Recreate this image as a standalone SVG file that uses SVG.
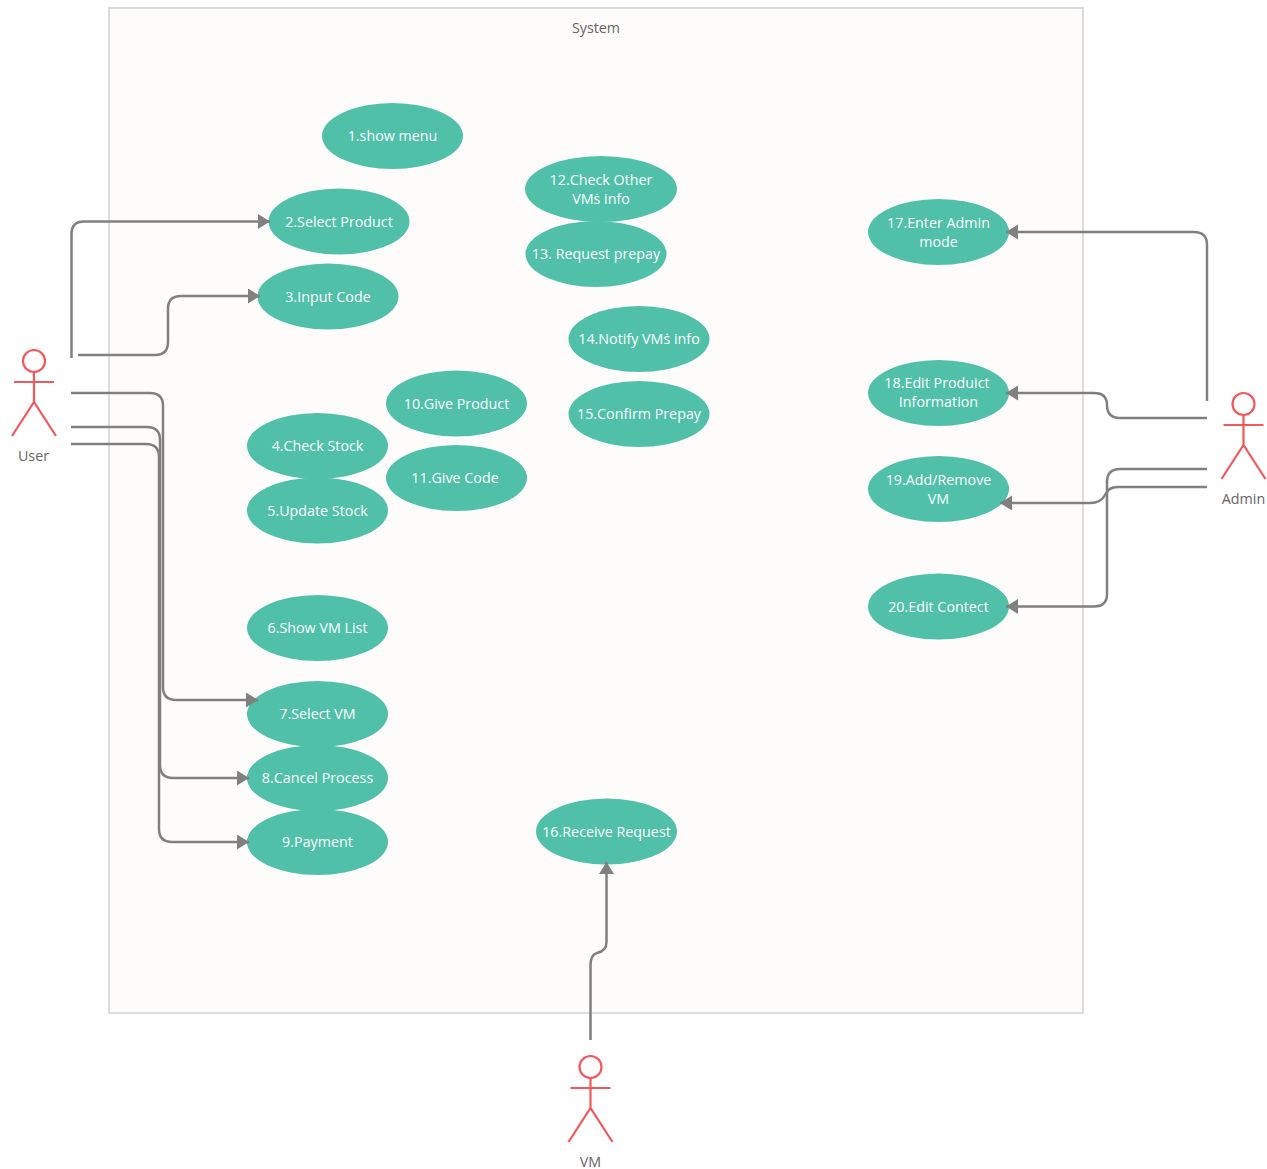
<svg xmlns="http://www.w3.org/2000/svg" width="1267" height="1169" viewBox="0 0 1267 1169">
<defs>
<marker id="arrow" markerUnits="userSpaceOnUse" markerWidth="14" markerHeight="16" refX="12" refY="7.500" orient="auto"><path d="M0 0L12 7.500L0 15Z" fill="#808080"/></marker>
</defs>
<style>
text{font-family:"Open Sans","Noto Sans","Liberation Sans",sans-serif;font-size:14.3px;text-anchor:middle}
.uc ellipse{fill:#50c0a9}
.uc text{fill:#fbfffd}
.actor path,.actor circle{fill:none;stroke:#f4575b;stroke-width:2.200}
.lbl{fill:#666}
#connectors path{fill:none;stroke:#808080;stroke-width:2.500}
.a{marker-end:url(#arrow)}
</style>
<rect width="1267" height="1169" fill="#fff"/>
<g id="system"><rect x="109" y="8" width="974" height="1005" fill="#fdfcfb" stroke="#dcdcdc" stroke-width="2"/><text class="lbl" x="596" y="33">System</text></g>
<g class="uc" id="uc1"><ellipse cx="392.5" cy="136" rx="70.5" ry="33"/><text x="392.5" y="141">1.show menu</text></g>
<g class="uc" id="uc2"><ellipse cx="339" cy="221.500" rx="70.5" ry="33"/><text x="339" y="226.500">2.Select Product</text></g>
<g class="uc" id="uc3"><ellipse cx="328" cy="296.500" rx="70.5" ry="33"/><text x="328" y="301.500">3.Input Code</text></g>
<g class="uc" id="uc4"><ellipse cx="317.500" cy="446" rx="70.5" ry="33"/><text x="317.500" y="451">4.Check Stock</text></g>
<g class="uc" id="uc5"><ellipse cx="317.500" cy="510.500" rx="70.5" ry="33"/><text x="317.500" y="515.500">5.Update Stock</text></g>
<g class="uc" id="uc6"><ellipse cx="317.500" cy="628" rx="70.5" ry="33"/><text x="317.500" y="633">6.Show VM List</text></g>
<g class="uc" id="uc7"><ellipse cx="317.500" cy="714" rx="70.5" ry="33"/><text x="317.500" y="719">7.Select VM</text></g>
<g class="uc" id="uc8"><ellipse cx="317.500" cy="778" rx="70.5" ry="33"/><text x="317.500" y="783">8.Cancel Process</text></g>
<g class="uc" id="uc9"><ellipse cx="317.500" cy="842" rx="70.5" ry="33"/><text x="317.500" y="847">9.Payment</text></g>
<g class="uc" id="uc10"><ellipse cx="456.500" cy="403.500" rx="70.5" ry="33"/><text x="456.500" y="408.500">10.Give Product</text></g>
<g class="uc" id="uc11"><ellipse cx="456.500" cy="478" rx="70.5" ry="33"/><text x="455" y="483">11.Give Code</text></g>
<g class="uc" id="uc12"><ellipse cx="601" cy="189" rx="76" ry="33"/><text x="601" y="185">12.Check Other</text><text x="601" y="204">VMṡ info</text></g>
<g class="uc" id="uc13"><ellipse cx="596" cy="254" rx="70.5" ry="33"/><text x="596" y="259">13. Request prepay</text></g>
<g class="uc" id="uc14"><ellipse cx="639" cy="339" rx="70.5" ry="33"/><text x="639" y="344">14.Notify VMṡ info</text></g>
<g class="uc" id="uc15"><ellipse cx="639" cy="414" rx="70.5" ry="33"/><text x="639" y="419">15.Confirm Prepay</text></g>
<g class="uc" id="uc16"><ellipse cx="606.500" cy="831.500" rx="70.5" ry="33"/><text x="606.500" y="836.500">16.Receive Request</text></g>
<g class="uc" id="uc17"><ellipse cx="938.500" cy="232" rx="70.5" ry="33"/><text x="938.500" y="228">17.Enter Admin</text><text x="938.500" y="247">mode</text></g>
<g class="uc" id="uc18"><ellipse cx="938.500" cy="393" rx="70.5" ry="33"/><text x="937" y="388">18.Edit Produict</text><text x="938.500" y="407">Information</text></g>
<g class="uc" id="uc19"><ellipse cx="938.500" cy="489" rx="70.5" ry="33"/><text x="938.500" y="485">19.Add/Remove</text><text x="938.500" y="504">VM</text></g>
<g class="uc" id="uc20"><ellipse cx="938.500" cy="606.500" rx="70.5" ry="33"/><text x="938.500" y="612">20.Edit Contect</text></g>
<g class="actor" id="user"><circle cx="34" cy="361" r="11"/><path d="M34 372V402M14 382H54M12 436L34 402L56 436"/><text class="lbl" x="33.500" y="461">User</text></g>
<g class="actor" id="admin"><circle cx="1243.500" cy="404" r="11"/><path d="M1243.500 415V445M1223.500 425H1263.500M1221.500 479L1243.500 445L1265.500 479"/><text class="lbl" x="1243.500" y="504">Admin</text></g>
<g class="actor" id="vm"><circle cx="590.500" cy="1067" r="11"/><path d="M590.500 1078V1108M570.500 1088H610.500M568.500 1142L590.500 1108L612.500 1142"/><text class="lbl" x="590.500" y="1167">VM</text></g>
<g id="connectors">
<path class="a" d="M71.500 358V234Q71.500 221.500 84 221.500H270"/>
<path class="a" d="M78 355H155Q168 355 168 342V309Q168 296 181 296H260"/>
<path class="a" d="M71 393H150Q163 393 163 406V687Q163 700 176 700H258"/>
<path class="a" d="M71 427H147Q160 427 160 440V765Q160 778 173 778H249"/>
<path class="a" d="M71 444H146Q159 444 159 457V829Q159 842 172 842H249"/>
<path class="a" d="M1207 401V245Q1207 232 1194 232H1006"/>
<path class="a" d="M1207 418H1120Q1107 418 1107 405Q1107 393 1094 393H1006"/>
<path class="a" d="M1207 469H1120Q1107 469 1107 482V594Q1107 606.500 1094 606.500H1006"/>
<path class="a" d="M1207 487H1118C1110 487 1108 490 1105 495Q1101 503 1090 503H1000"/>
<path class="a" d="M590.500 1040V965Q590.500 955 597 953Q606.500 951 606.500 942V862"/>
</g>
</svg>
